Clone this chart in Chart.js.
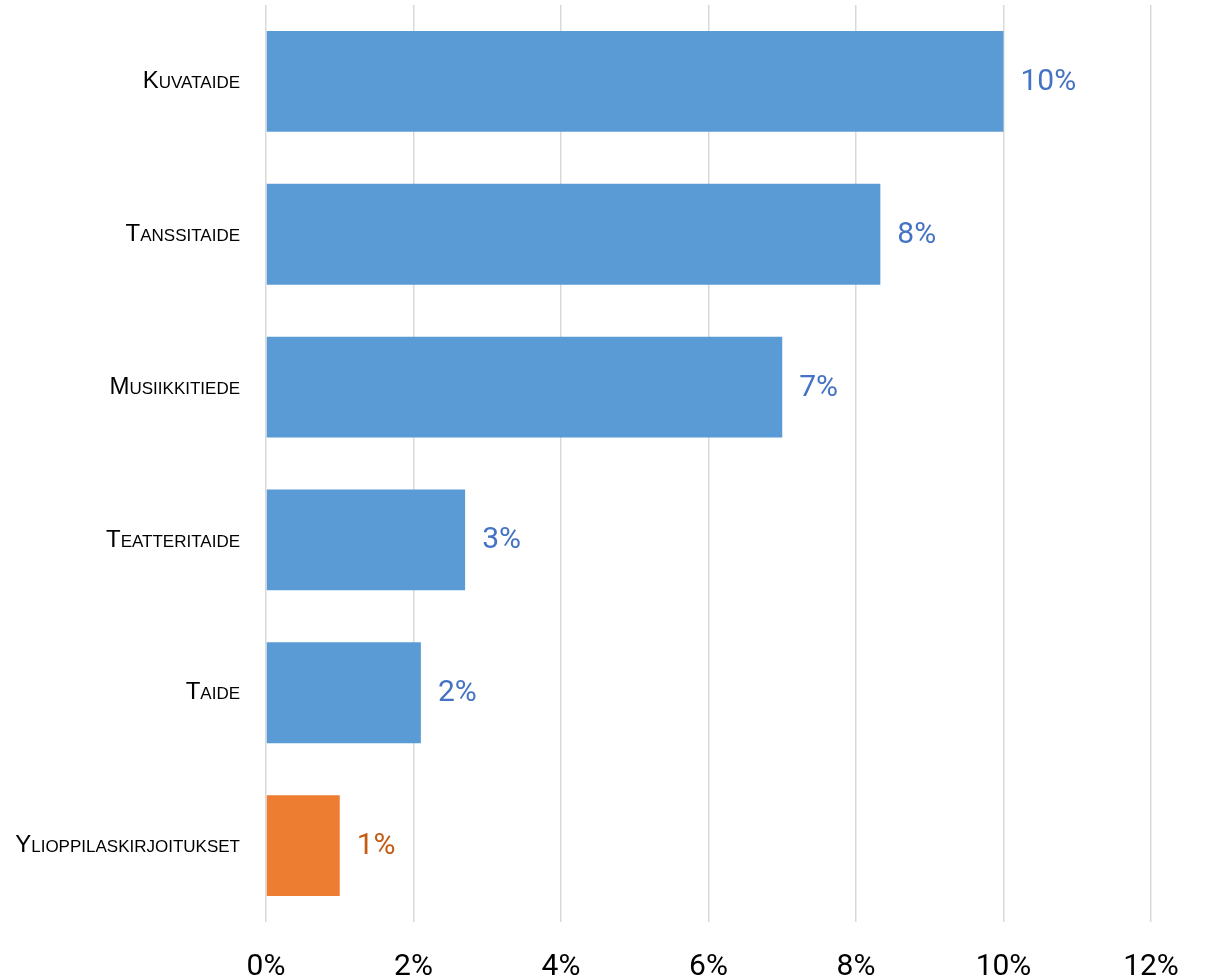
<!DOCTYPE html>
<html>
<head>
<meta charset="utf-8">
<script src="https://cdn.jsdelivr.net/npm/chart.js@4/dist/chart.umd.min.js"></script>
<style>
  body { margin: 0; background: #fff; }
  #wrap { width: 1210px; height: 980px; }
</style>
</head>
<body>
<div id="wrap"><canvas id="barChart" width="1210" height="980"></canvas></div>
<script>
const categories = ['Kuvataide', 'Tanssitaide', 'Musiikkitiede', 'Teatteritaide', 'Taide', 'Ylioppilaskirjoitukset'];
const shares = [10.0, 8.33, 7.0, 2.7, 2.1, 1.0];
const tickValues = [0, 2, 4, 6, 8, 10, 12];

const barColors = ['#5B9BD5', '#5B9BD5', '#5B9BD5', '#5B9BD5', '#5B9BD5', '#ED7D31'];
const labelColors = ['#4472C4', '#4472C4', '#4472C4', '#4472C4', '#4472C4', '#C55A11'];
const numFont = "'Liberation Sans Narrow', Roboto, sans-serif";

// value labels at the end of each bar
const barLabels = {
  id: 'barLabels',
  afterDatasetsDraw(chart) {
    const ctx = chart.ctx;
    const meta = chart.getDatasetMeta(0);
    ctx.save();
    ctx.font = '30px ' + numFont;
    ctx.textAlign = 'left';
    ctx.textBaseline = 'middle';
    meta.data.forEach((bar, i) => {
      ctx.fillStyle = labelColors[i];
      ctx.fillText(Math.round(shares[i]) + '%', bar.x + 17, bar.y + 1);
    });
    ctx.restore();
  }
};

const ctx = document.getElementById('barChart').getContext('2d');
const barChart = new Chart(ctx, {
  type: 'bar',
  data: {
    labels: categories,
    datasets: [
      {
        data: shares,
        backgroundColor: barColors,
        categoryPercentage: 1,
        barPercentage: 0.66,
      },
    ],
  },
  options: {
    indexAxis: 'y',
    responsive: false,
    animation: false,
    layout: {
      padding: { top: 5, right: 59, bottom: 0, left: 0 },
    },
    plugins: {
      legend: { display: false },
      tooltip: { enabled: false },
    },
    scales: {
      x: {
        min: 0,
        max: 12,
        afterBuildTicks: (scale) => {
          scale.ticks = tickValues.map((v) => ({ value: v }));
        },
        afterFit: (scale) => {
          scale.height = 58;
          scale.paddingLeft = 0;
          scale.paddingRight = 0;
        },
        ticks: {
          color: '#000',
          padding: 27,
          font: { family: numFont, size: 30 },
          callback: (v) => v + '%',
        },
        grid: {
          color: '#d9d9d9',
          lineWidth: 1.5,
          drawTicks: false,
        },
        border: { display: false },
      },
      y: {
        afterFit: (scale) => {
          scale.width = 266;
          scale.paddingTop = 0;
          scale.paddingBottom = 0;
        },
        ticks: {
          color: '#000',
          padding: 26,
          // weight slot carries the small-caps variant into the canvas font string
          font: { family: "'Liberation Sans', Arial, sans-serif", size: 24, weight: 'small-caps' },
        },
        grid: { display: false, drawTicks: false },
        border: { display: false },
      },
    },
  },
  plugins: [barLabels],
});
</script>
</body>
</html>
